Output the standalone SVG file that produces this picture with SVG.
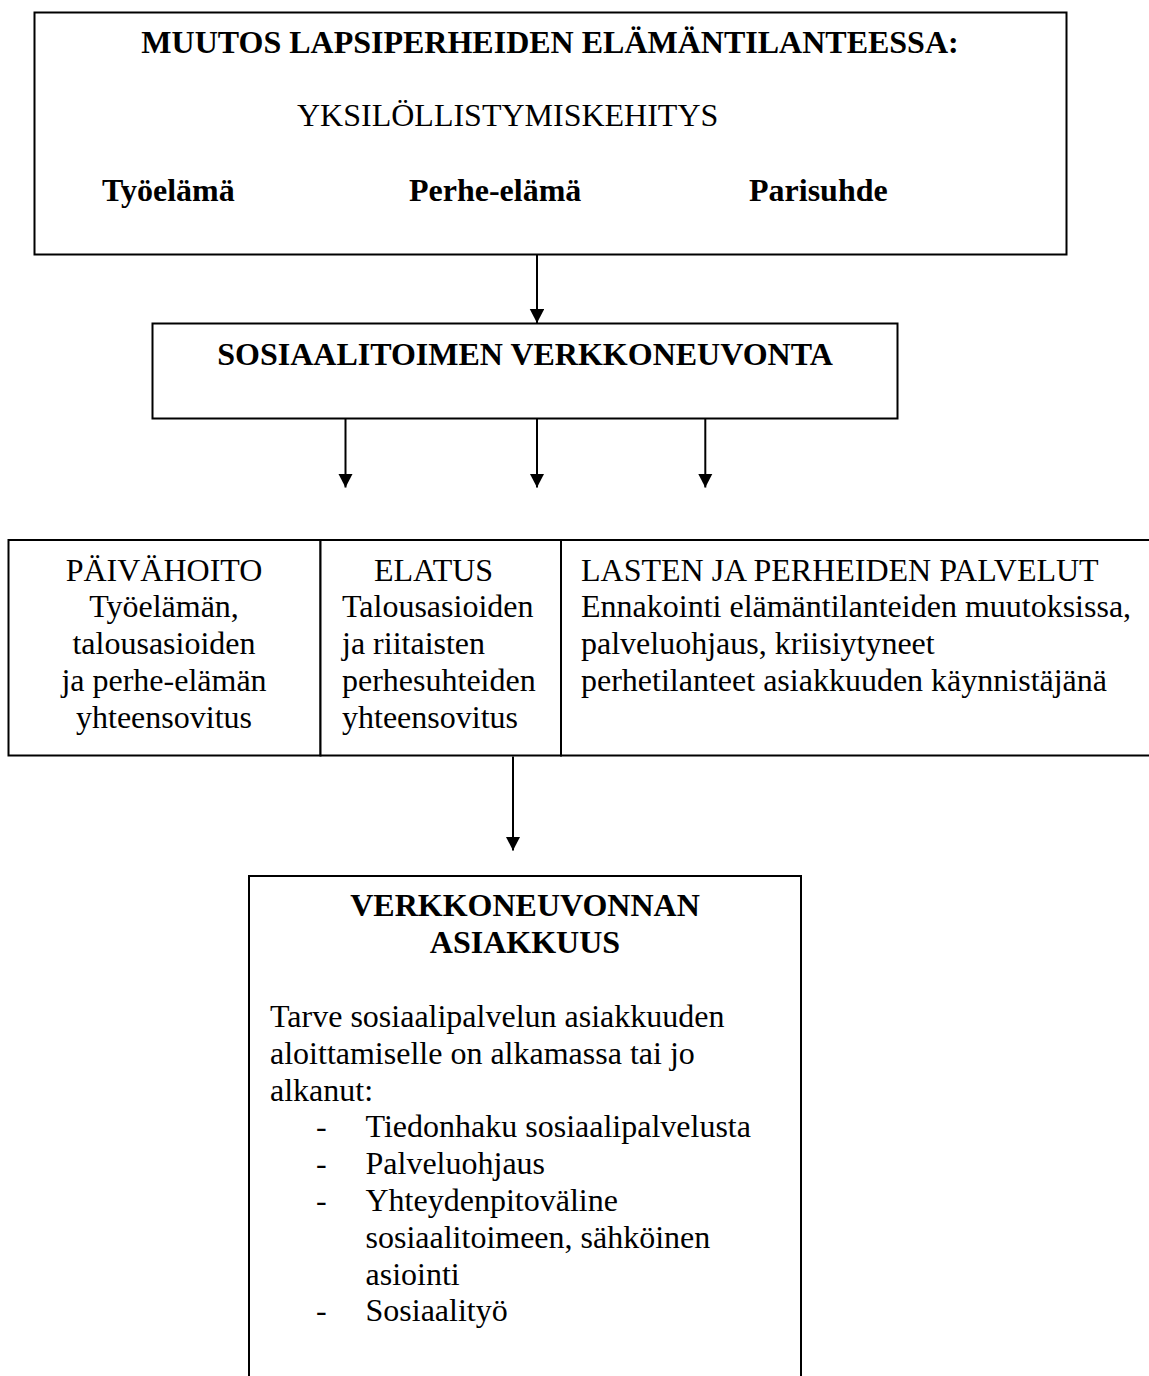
<svg xmlns="http://www.w3.org/2000/svg" width="1149" height="1376" viewBox="0 0 1149 1376">
<style>
  .box { fill: #ffffff; stroke: #000000; stroke-width: 2; }
  .t { font-family: "Liberation Serif", "Times New Roman", serif; font-size: 32px; fill: #000000; }
  .b { font-weight: bold; }
  .c { text-anchor: middle; }
  .conn { stroke: #000000; stroke-width: 2; fill: none; marker-end: url(#arrow); }
</style>
<defs>
  <marker id="arrow" markerUnits="userSpaceOnUse" markerWidth="15" markerHeight="15" refX="14" refY="7.25" orient="auto" viewBox="0 0 15 15">
    <path d="M0,0 L14,7.25 L0,14.5 z" fill="#000000"/>
  </marker>
</defs>
<rect width="1149" height="1376" fill="#ffffff"/>

<g id="node-muutos">
  <rect class="box" x="34.5" y="12.5" width="1032" height="242"/>
  <text class="t b c" x="550" y="53">MUUTOS LAPSIPERHEIDEN ELÄMÄNTILANTEESSA:</text>
  <text class="t" x="297" y="126">YKSILÖLLISTYMISKEHITYS</text>
  <text class="t b" x="102" y="201">Työelämä</text>
  <text class="t b" x="409" y="201">Perhe-elämä</text>
  <text class="t b" x="749" y="201">Parisuhde</text>
</g>

<g id="node-verkkoneuvonta">
  <rect class="box" x="152.5" y="323.5" width="745" height="95"/>
  <text class="t b c" x="525" y="365">SOSIAALITOIMEN VERKKONEUVONTA</text>
</g>

<g id="node-paivahoito">
  <rect class="box" x="8.5" y="540" width="312" height="215.5"/>
  <text class="t c" x="164" y="580.5">PÄIVÄHOITO</text>
  <text class="t c" x="164" y="617.3">Työelämän,</text>
  <text class="t c" x="164" y="654.1">talousasioiden</text>
  <text class="t c" x="164" y="690.9">ja perhe-elämän</text>
  <text class="t c" x="164" y="727.7">yhteensovitus</text>
</g>

<g id="node-elatus">
  <rect class="box" x="320.5" y="540" width="240.5" height="215.5"/>
  <text class="t" x="374" y="580.5">ELATUS</text>
  <text class="t" x="342" y="617.3">Talousasioiden</text>
  <text class="t" x="342" y="654.1">ja riitaisten</text>
  <text class="t" x="342" y="690.9">perhesuhteiden</text>
  <text class="t" x="342" y="727.7">yhteensovitus</text>
</g>

<g id="node-lasten">
  <rect class="box" x="561" y="540" width="600" height="215.5"/>
  <text class="t" x="581" y="580.5">LASTEN JA PERHEIDEN PALVELUT</text>
  <text class="t" x="581" y="617.3">Ennakointi elämäntilanteiden muutoksissa,</text>
  <text class="t" x="581" y="654.1">palveluohjaus, kriisiytyneet</text>
  <text class="t" x="581" y="690.9">perhetilanteet asiakkuuden käynnistäjänä</text>
</g>

<g id="node-asiakkuus">
  <rect class="box" x="249" y="876" width="552" height="520"/>
  <text class="t b c" x="525" y="916">VERKKONEUVONNAN</text>
  <text class="t b c" x="525" y="952.8">ASIAKKUUS</text>
  <text class="t" x="270" y="1027">Tarve sosiaalipalvelun asiakkuuden</text>
  <text class="t" x="270" y="1063.8">aloittamiselle on alkamassa tai jo</text>
  <text class="t" x="270" y="1100.6">alkanut:</text>
  <text class="t" x="316" y="1137.4">-</text>
  <text class="t" x="365.5" y="1137.4">Tiedonhaku sosiaalipalvelusta</text>
  <text class="t" x="316" y="1174.2">-</text>
  <text class="t" x="365.5" y="1174.2">Palveluohjaus</text>
  <text class="t" x="316" y="1211">-</text>
  <text class="t" x="365.5" y="1211">Yhteydenpitoväline</text>
  <text class="t" x="365.5" y="1247.8">sosiaalitoimeen, sähköinen</text>
  <text class="t" x="365.5" y="1284.6">asiointi</text>
  <text class="t" x="316" y="1321.4">-</text>
  <text class="t" x="365.5" y="1321.4">Sosiaalityö</text>
</g>

<g id="connectors">
  <line class="conn" x1="537" y1="255" x2="537" y2="323"/>
  <line class="conn" x1="345.5" y1="419" x2="345.5" y2="487.5"/>
  <line class="conn" x1="537" y1="419" x2="537" y2="487.5"/>
  <line class="conn" x1="705.3" y1="419" x2="705.3" y2="487.5"/>
  <line class="conn" x1="513" y1="756.5" x2="513" y2="850.5"/>
</g>
</svg>
